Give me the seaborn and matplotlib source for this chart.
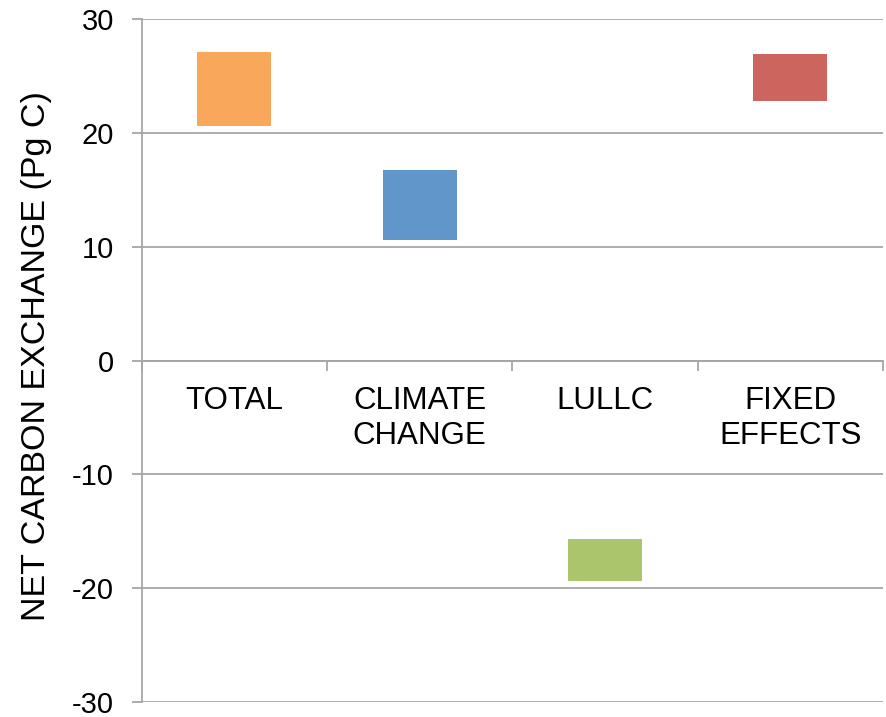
import matplotlib
matplotlib.use("Agg")
import matplotlib.pyplot as plt
import seaborn as sns
import numpy as np

# Range of net carbon exchange per driver (Pg C)
categories = ["TOTAL", "CLIMATE\nCHANGE", "LULLC", "FIXED\nEFFECTS"]
low_values = [20.6, 10.6, -19.4, 22.8]
high_values = [27.1, 16.7, -15.7, 26.9]
bar_colors = ["#F9A75A", "#6096CA", "#ABC56C", "#CD655F"]
y_ticks = [-30, -20, -10, 0, 10, 20, 30]

sns.set_theme(style="white")
plt.rcParams["font.family"] = ["Liberation Sans", "DejaVu Sans"]

grid_color = "#A6A6A6"

fig = plt.figure(figsize=(8.87, 7.17), dpi=100)
ax = fig.add_axes([0.1598, 0.0209, 0.8357, 0.9526])

spans = [h - l for h, l in zip(high_values, low_values)]
sns.barplot(x=categories, y=spans, bottom=low_values, width=0.4,
            color=bar_colors[0], errorbar=None, ax=ax, zorder=3,
            linewidth=0)
for patch, c in zip(ax.patches, bar_colors):
    patch.set_facecolor(c)
    patch.set_edgecolor("none")

ax.set_ylim(-30, 30)
ax.set_xlim(-0.5, len(categories) - 0.5)
ax.set_yticks(y_ticks)
ax.set_yticklabels([str(v) for v in y_ticks])
ax.yaxis.grid(True, color=grid_color, linewidth=1.3, zorder=0)
ax.set_axisbelow(True)

for side in ["top", "right"]:
    ax.spines[side].set_visible(False)
ax.spines["left"].set_color(grid_color)
ax.spines["left"].set_linewidth(1.3)
ax.spines["bottom"].set_position(("data", 0))
ax.spines["bottom"].set_color(grid_color)
ax.spines["bottom"].set_linewidth(1.3)

ax.tick_params(axis="y", direction="out", length=7, width=1.3,
               color=grid_color, pad=13, labelsize=21, labelcolor="black", left=True)
ax.tick_params(axis="x", which="major", length=0, pad=18,
               labelsize=22.5, labelcolor="black", bottom=True)
ax.set_xticks(np.arange(-0.5, len(categories), 1.0), minor=True)
ax.tick_params(axis="x", which="minor", direction="out", length=7, width=1.3,
               color=grid_color, bottom=True)
for lbl in ax.get_xticklabels():
    lbl.set_verticalalignment("top")
    lbl.set_multialignment("center")
    lbl.set_linespacing(1.25)

ax.set_xlabel("")
ax.set_ylabel("NET CARBON EXCHANGE (Pg C)", fontsize=24.5, color="black")
ax.yaxis.set_label_coords(-0.121, 0.506)

fig.savefig("out.png", dpi=100)
